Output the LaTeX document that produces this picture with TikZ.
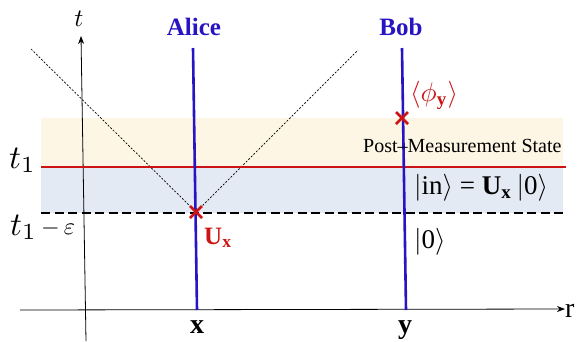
\documentclass[tikz,border=0pt]{standalone}
\usepackage{graphicx}
\usepackage{fontspec}
\setmainfont{Liberation Serif}
\usetikzlibrary{arrows.meta}
\definecolor{wblue}{RGB}{40,20,195}
\definecolor{mred}{RGB}{205,20,20}
\definecolor{beige}{RGB}{253,246,229}
\definecolor{lblue}{RGB}{227,234,244}
\newcommand{\fsz}[1]{\fontsize{#1}{#1}\selectfont}
\newcommand{\sbx}[2]{{\fsz{10}\scalebox{#1}{#2}}}
\tikzset{
  world/.style={wblue, line width=2.6pt},
  axis/.style={black, line width=0.8pt, -{Stealth[length=8pt,width=6pt]}},
  cone/.style={black, dash pattern=on 2pt off 1.6pt, line width=0.7pt},
  cross/.style={mred, line width=2.6pt},
  lbl/.style={inner sep=0pt, font=\fsz{20}},
  pname/.style={inner sep=0pt, text=wblue, font=\fsz{25}\bfseries},
}
\begin{document}
\begin{tikzpicture}[x=1pt,y=-1pt]
\useasboundingbox (0,0) rectangle (579,341);
% bands
\fill[beige] (41,118) rectangle (563,167);
\fill[lblue] (41,167) rectangle (563,213);
% axes
\coordinate (tb) at (86,341);
\coordinate (tt) at (81,36);
\coordinate (rl) at (20,310);
\coordinate (rr) at (565,309);
\draw[axis] (tb) -- (tt);
\draw[axis] (rl) -- (rr);
\node[lbl, anchor=base] (tl) at (79,26) {\sbx{2.5}{$t$}};
\node[lbl, font=\fsz{28}, anchor=base west] (rlab) at (565,317) {r};
% light cone
\coordinate (ux) at (196,212);
\coordinate (cl) at (31,49);
\coordinate (cr) at (358,50);
\draw[cone] (cl) -- (ux) -- (cr);
% horizontal lines
\coordinate (t1a) at (41,167);
\coordinate (t1b) at (566,167);
\draw[mred, line width=2.6pt] (t1a) -- (t1b);
\coordinate (tea) at (41,213);
\coordinate (teb) at (565,213);
\draw[black, line width=2.6pt, dash pattern=on 9pt off 4.5pt] (tea) -- (teb);
% world lines
\coordinate (a1) at (193,48);
\coordinate (a2) at (197,310);
\coordinate (b1) at (402,48);
\coordinate (b2) at (406,310);
\draw[world] (a1) -- (a2);
\draw[world] (b1) -- (b2);
\node[pname, anchor=base] (alice) at (194,35) {Alice};
\node[pname, anchor=base] (bob) at (401,35) {Bob};
% crosses
\coordinate (py) at (402,118);
\foreach \c in {ux,py}{
  \draw[cross] ([shift={(-6,-6)}]\c) -- ([shift={(6,6)}]\c);
  \draw[cross] ([shift={(-6,6)}]\c) -- ([shift={(6,-6)}]\c);
}
% labels
\node[lbl, font=\fsz{25}, text=mred, anchor=base west] (uxl) at (204,244) {\textbf{U}$_{\mathbf{x}}$};
\node[lbl, text=mred, anchor=base west] (phl) at (410,101) {\sbx{2.7}{$\langle\phi_{\mathbf{y}}\rangle$}};
\node[lbl, anchor=base west] (pms) at (363,152) {Post–Measurement State};
\node[lbl, anchor=base west] (inl) at (414,194) {\sbx{2.7}{$|$in$\rangle$ = \textbf{U}$_{\mathbf{x}}\,|$0$\rangle$}};
\node[lbl, anchor=base west] (zl) at (414,248) {\sbx{2.7}{$|$0$\rangle$}};
\node[lbl, anchor=base west] (t1l) at (9,168) {\sbx{3.3}{$t_1$}};
\node[lbl, anchor=base west] (tel) at (10,235) {\sbx{3.3}{$t_1$}};
\node[lbl, anchor=base west] (epl) at (41,234) {\sbx{2.4}{$-\,\varepsilon$}};
\node[lbl, font=\fsz{28}, anchor=base] (xl) at (197,333) {\textbf{x}};
\node[lbl, font=\fsz{28}, anchor=base] (yl) at (405,333) {\textbf{y}};
\end{tikzpicture}
\end{document}
